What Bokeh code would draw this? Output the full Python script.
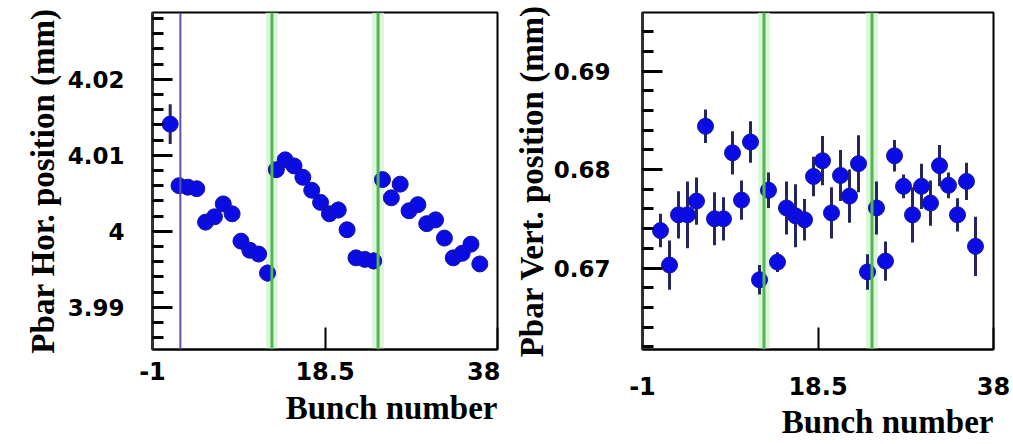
import numpy as np
from bokeh.plotting import figure
from bokeh.models import (ColumnDataSource, FixedTicker, CustomJSTickFormatter,
                          Span, Title, Range1d)
from bokeh.layouts import row
from bokeh.embed import file_html
from bokeh.resources import INLINE

# ---- data -----------------------------------------------------------------
bunch = list(range(1, 37))

hor_pos = [4.0141, 4.0060, 4.0058, 4.0056, 4.0012, 4.0019, 4.0036, 4.0023,
           3.9987, 3.9975, 3.9970, 3.9945,
           4.0081, 4.0094, 4.0086, 4.0071, 4.0054, 4.0038, 4.0023, 4.0028,
           4.0002, 3.9965, 3.9963, 3.9961,
           4.0068, 4.0044, 4.0062, 4.0027, 4.0035, 4.0010, 4.0015, 3.9991,
           3.9965, 3.9971, 3.9983, 3.9957]
hor_err = [0.0026, 0.0009, 0.0009, 0.0009, 0.0009, 0.0009, 0.0009, 0.0009,
           0.0009, 0.0009, 0.0009, 0.0011,
           0.0010, 0.0009, 0.0009, 0.0009, 0.0009, 0.0009, 0.0009, 0.0011,
           0.0009, 0.0009, 0.0009, 0.0011,
           0.0009, 0.0009, 0.0009, 0.0009, 0.0009, 0.0009, 0.0009, 0.0009,
           0.0009, 0.0009, 0.0010, 0.0009]

vert_pos = [0.6738, 0.6703, 0.6754, 0.6754, 0.6768, 0.6844, 0.6750, 0.6750,
            0.6817, 0.6769, 0.6828, 0.6688,
            0.6779, 0.6706, 0.6761, 0.6753, 0.6749, 0.6793, 0.6809, 0.6756,
            0.6794, 0.6773, 0.6806, 0.6696,
            0.6761, 0.6707, 0.6814, 0.6783, 0.6754, 0.6783, 0.6766, 0.6804,
            0.6784, 0.6754, 0.6788, 0.6722]
vert_err = [0.0017, 0.0025, 0.0024, 0.0034, 0.0024, 0.0017, 0.0027, 0.0022,
            0.0022, 0.0020, 0.0021, 0.0015,
            0.0018, 0.0010, 0.0027, 0.0032, 0.0021, 0.0020, 0.0025, 0.0026,
            0.0026, 0.0027, 0.0029, 0.0018,
            0.0027, 0.0020, 0.0016, 0.0012, 0.0028, 0.0023, 0.0023, 0.0021,
            0.0013, 0.0017, 0.0019, 0.0030]

train_gaps = [12.5, 24.5]        # boundaries between bunch trains
hor_marker_line = [2.15]         # extra reference line on the horizontal plot
x_ticks = [-1, 18.5, 38]
hor_ticks = [3.99, 4.00, 4.01, 4.02]
vert_ticks = [0.67, 0.68, 0.69]

# ---- styling --------------------------------------------------------------
POINT_FILL = "#0b0be6"
POINT_EDGE = "#16169a"
ERR_COLOR = "#26265e"
GREEN = "#4fb84f"
GREEN_HALO = "#d6f2d2"

TICK_FONT = "DejaVu Sans"
TITLE_FONT = "Liberation Serif"


def make_panel(values, errors, y_range, major, minor, ylabel, width,
               borders, tick_standoffs, label_standoff, title_standoff,
               extra_lines=()):
    left, right, top, bottom = borders
    p = figure(width=width, height=444, x_range=Range1d(-1, 38),
               y_range=Range1d(*y_range), output_backend="svg",
               toolbar_location=None, min_border_left=left,
               min_border_right=right, min_border_top=top,
               min_border_bottom=bottom, background_fill_color="white",
               border_fill_color="white", outline_line_color="black",
               outline_line_width=2)
    p.grid.visible = False

    lo = [v - e for v, e in zip(values, errors)]
    hi = [v + e for v, e in zip(values, errors)]
    src = ColumnDataSource(dict(x=bunch, y=values, lo=lo, hi=hi))

    # faint halo of the train boundary lines, kept under the points
    for g in train_gaps:
        p.add_layout(Span(location=g, dimension="height", line_color=GREEN_HALO,
                          line_width=12, line_alpha=0.8, level="underlay"))

    p.segment("x", "lo", "x", "hi", source=src, line_color=ERR_COLOR,
              line_width=3)
    p.scatter("x", "y", source=src, size=16, fill_color=POINT_FILL,
              line_color=POINT_EDGE, line_width=1)

    for g in train_gaps:
        p.add_layout(Span(location=g, dimension="height", line_color=GREEN,
                          line_width=3))
    for g in extra_lines:
        p.add_layout(Span(location=g, dimension="height", line_color="#5a52a8",
                          line_width=2))

    # x axis
    xa = p.xaxis[0]
    xa.ticker = FixedTicker(ticks=x_ticks, minor_ticks=[])
    xa.formatter = CustomJSTickFormatter(
        code="return Number(tick.toFixed(2)).toString();")
    xa.major_tick_in = 22
    xa.major_tick_out = 0
    xa.minor_tick_in = 0
    xa.minor_tick_out = 0
    xa.axis_line_width = 2
    xa.major_tick_line_width = 2
    xa.major_label_text_font = TICK_FONT
    xa.major_label_text_font_style = "bold"
    xa.major_label_text_font_size = "24px"
    xa.major_label_text_color = "black"
    xa.major_label_standoff = tick_standoffs[0]

    # y axis
    ya = p.yaxis[0]
    ya.ticker = FixedTicker(ticks=major, minor_ticks=minor)
    ya.formatter = CustomJSTickFormatter(
        code="return Number(tick.toFixed(4)).toString();")
    ya.major_tick_in = 20
    ya.major_tick_out = 0
    ya.minor_tick_in = 11
    ya.minor_tick_out = 0
    ya.major_tick_line_width = 3
    ya.minor_tick_line_width = 3
    ya.axis_line_width = 3
    ya.axis_line_color = "#303030"
    ya.major_label_text_font = TICK_FONT
    ya.major_label_text_font_style = "bold"
    ya.major_label_text_font_size = "23px"
    ya.major_label_text_color = "black"
    ya.major_label_standoff = tick_standoffs[1]
    ya.axis_label = ylabel
    ya.axis_label_text_font = TITLE_FONT
    ya.axis_label_text_font_style = "bold"
    ya.axis_label_text_font_size = "33px"
    ya.axis_label_text_color = "black"
    ya.axis_label_standoff = label_standoff

    # x-axis title, right-aligned with the end of the axis
    p.add_layout(Title(text="Bunch number", align="right", text_font=TITLE_FONT,
                       text_font_style="bold", text_font_size="33px",
                       text_color="black", standoff=title_standoff, offset=0),
                 "below")
    return p


hor_minor = list(np.round(np.arange(3.984, 4.029, 0.002), 4))
vert_minor = list(np.round(np.arange(0.662, 0.696, 0.002), 4))

left = make_panel(hor_pos, hor_err, (3.98444, 4.02879), hor_ticks, hor_minor,
                  "Pbar Hor. position (mm)", 500, (152, 3, 12, 50),
                  (12, 28), 4, 10, extra_lines=hor_marker_line)
right = make_panel(vert_pos, vert_err, (0.66172, 0.69596), vert_ticks,
                   vert_minor, "Pbar Vert. position (mm)", 513,
                   (142, 20, 8, 50), (27, 32), 1, 9)

layout = row(left, right)
open("out.html", "w").write(file_html(layout, INLINE))
